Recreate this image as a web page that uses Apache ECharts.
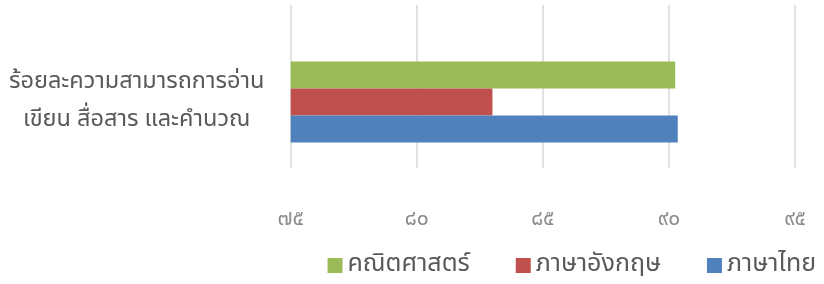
<!DOCTYPE html>
<html>
<head>
<meta charset="utf-8">
<script src="https://cdn.jsdelivr.net/npm/echarts@6/dist/echarts.min.js"></script>
<style>
html,body{margin:0;padding:0;background:#fff;}
#chart{width:824px;height:284px;}
</style>
</head>
<body>
<div id="chart"></div>
<script type="text/javascript">
// ข้อมูล
var categories = ['ร้อยละความสามารถการอ่าน\nเขียน สื่อสาร และคำนวณ'];
var legendNames = ['คณิตศาสตร์', 'ภาษาอังกฤษ', 'ภาษาไทย'];
var mathValues = [90.25];
var englishValues = [83.0];
var thaiValues = [90.35];
var xTicks = [75, 80, 85, 90, 95];

var colors = {'คณิตศาสตร์':'#9BBB59', 'ภาษาอังกฤษ':'#C0504D', 'ภาษาไทย':'#4F81BD'};
var font = '"Noto Sans Thai", "Noto Sans", sans-serif';

// เลขไทย
function toThaiDigits(v){
	var d = ['๐','๑','๒','๓','๔','๕','๖','๗','๘','๙'];
	return String(v).replace(/[0-9]/g, function(c){ return d[+c]; });
}

var chart = echarts.init(document.getElementById('chart'));

function barSeries(name, values){
	return {
		name: name,
		type: 'bar',
		xAxisIndex: 0,
		yAxisIndex: 0,
		data: values,
		barWidth: 27,
		barGap: '0%',
		itemStyle: {color: colors[name]},
		silent: true
	};
}

var option = {
	animation: false,
	legend: {
		data: legendNames,
		right: 3,
		top: 248,
		itemWidth: 15,
		itemHeight: 15,
		itemGap: 46,
		icon: 'rect',
		textStyle: {fontSize: 25, color: '#595959', fontFamily: font}
	},
	grid: [
		// แท่ง
		{left: 290.7, right: 29, top: 36, bottom: 116},
		// เส้นตาราง
		{left: 290.7, right: 29, top: 5, bottom: 116}
	],
	xAxis: [
		{gridIndex: 0, type: 'value', min: 75, max: 95, interval: 5, show: false},
		{
			gridIndex: 1, type: 'value', min: xTicks[0], max: xTicks[xTicks.length-1], interval: 5,
			axisLine: {show: false}, axisTick: {show: false},
			splitLine: {show: true, lineStyle: {color: '#D9D9D9', width: 1.5}},
			axisLabel: {
				margin: 42, fontSize: 21, color: '#8C8C8C', fontFamily: font,
				formatter: function(v){ return toThaiDigits(v); }
			}
		}
	],
	yAxis: [
		{
			gridIndex: 0, type: 'category', data: categories,
			axisLine: {show: false}, axisTick: {show: false},
			axisLabel: {
				margin: 154, align: 'center', fontSize: 23.5, lineHeight: 38,
				color: '#595959', fontFamily: font
			}
		},
		{gridIndex: 1, type: 'category', data: [''], show: false}
	],
	series: [
		barSeries('คณิตศาสตร์', mathValues),
		barSeries('ภาษาอังกฤษ', englishValues),
		barSeries('ภาษาไทย', thaiValues)
	]
};
chart.setOption(option);
</script>
</body>
</html>
